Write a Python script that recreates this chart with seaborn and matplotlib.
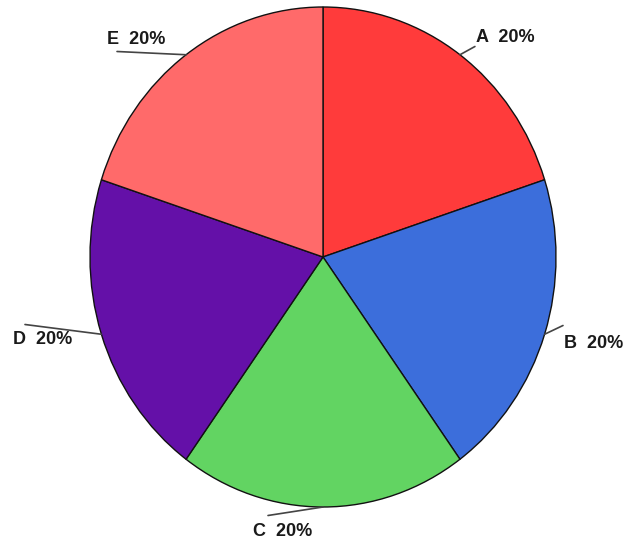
import matplotlib
matplotlib.use("Agg")
import matplotlib.pyplot as plt
import seaborn as sns
import numpy as np

categories = ["A", "B", "C", "D", "E"]
values = [20, 20, 20, 20, 20]
colors = ["#ff3b3b", "#3c6edb", "#62d462", "#6410a8", "#ff6a6a"]

# label text anchor (left, middle) and leader-line end, in axes data units
label_xy = [(0.657, 0.878), (1.035, -0.346), (-0.300, -1.098), (-1.330, -0.330), (-0.927, 0.870)]
leader_end = [(0.652, 0.842), (1.030, -0.274), (-0.236, -1.034), (-1.279, -0.270), (-0.884, 0.822)]

sns.set_theme(style="white")
plt.rcParams["font.family"] = ["Liberation Sans Narrow", "Liberation Sans", "DejaVu Sans"]

fig = plt.figure(figsize=(6.33, 5.40), dpi=100)
fig.patch.set_facecolor("white")
ax = fig.add_axes([90 / 633, 33 / 540, 466 / 633, 500 / 540])

wedges, _ = ax.pie(
    values,
    colors=colors,
    startangle=90,
    counterclock=False,
    wedgeprops=dict(edgecolor="#111111", linewidth=1.0),
)
ax.set_aspect("auto")
ax.set_xlim(-1, 1)
ax.set_ylim(-1, 1)
ax.axis("off")

total = sum(values)
for w, cat, val, (tx, ty), (lx, ly) in zip(wedges, categories, values, label_xy, leader_end):
    mid = np.deg2rad((w.theta1 + w.theta2) / 2)
    ex, ey = np.cos(mid), np.sin(mid)
    ax.plot([ex, lx], [ey, ly], color="#444444", lw=1.2, clip_on=False,
            solid_capstyle="round")
    pct = round(100 * val / total)
    ax.text(tx, ty, f"{cat}  {pct}%", ha="left", va="center", fontsize=13,
            fontweight="bold", color="#1a1a1a", clip_on=False)

fig.savefig("out.png", dpi=100)
